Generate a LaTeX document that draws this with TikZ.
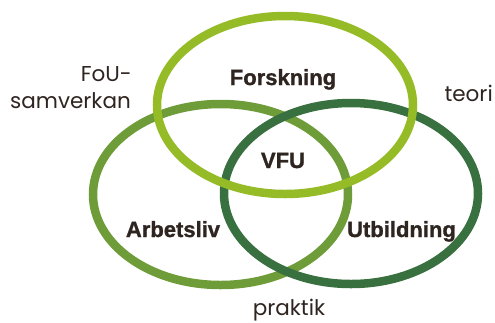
\documentclass[tikz,border=0pt]{standalone}
\usepackage{fontspec}
\setmainfont{Liberation Sans}
\newfontfamily\heavyfont[FakeBold=1.2]{Liberation Sans Bold}
\newfontfamily\lightfont{Poppins}
\definecolor{topgreen}{RGB}{149,188,38}
\definecolor{leftgreen}{RGB}{110,156,56}
\definecolor{rightgreen}{RGB}{57,112,63}
\definecolor{txt}{RGB}{46,36,32}
\begin{document}
\begin{tikzpicture}[x=1pt,y=-1pt,
  ring/.style={line width=8.5pt},
  boldlbl/.style={anchor=base,text=txt,inner sep=0pt,font=\heavyfont\fontsize{22}{24}\selectfont},
  lightlbl/.style={anchor=base,text=txt,inner sep=0pt,font=\lightfont\fontsize{21.5}{27}\selectfont}]
\useasboundingbox (0,0) rectangle (495,322);
\draw[ring,leftgreen] (220.5,194.5) ellipse [x radius=127.5pt, y radius=90.5pt];
\draw[ring,rightgreen] (351,193.5) ellipse [x radius=127pt, y radius=90.5pt];
\draw[ring,topgreen] (285,105) ellipse [x radius=128pt, y radius=89pt];
\node[boldlbl] (fo) at (283,85) {Forskning};
\node[boldlbl] (vfu) at (283,168) {VFU};
\node[boldlbl] (ar) at (173,237) {Arbetsliv};
\node[boldlbl] (ut) at (401.5,237) {Utbildning};
\node[lightlbl] (pr) at (289,315.5) {praktik};
\node[lightlbl,anchor=base east] (te) at (493,101) {teori};
\node[lightlbl,anchor=base east] (fou) at (132,81) {FoU-};
\node[lightlbl,anchor=base east] (sv) at (131,108) {samverkan};
\end{tikzpicture}
\end{document}
